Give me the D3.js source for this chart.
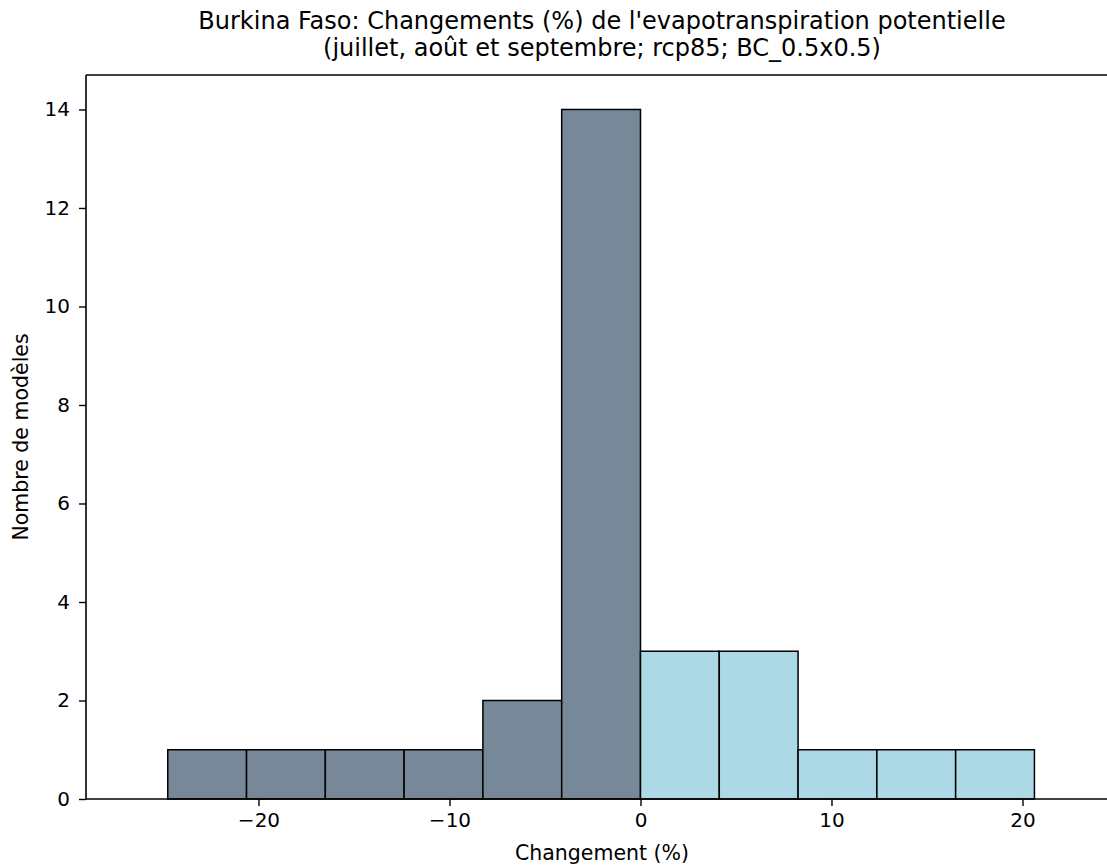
<!DOCTYPE html>
<html>
<head>
<meta charset="utf-8">
<script src="https://cdn.jsdelivr.net/npm/d3@7"></script>
<style>
  html, body { margin: 0; padding: 0; background: #fff; }
  svg { display: block; font-family: "DejaVu Sans", sans-serif; }
</style>
</head>
<body>
<svg id="chart" width="1107" height="867"></svg>
<script>
// Data
const binEdges = [-24.75, -20.625, -16.5, -12.375, -8.25, -4.125, 0, 4.125, 8.25, 12.375, 16.5, 20.625];
const counts = [1, 1, 1, 1, 2, 14, 3, 3, 1, 1, 1];
const xTicks = [-20, -10, 0, 10, 20];
const yTicks = [0, 2, 4, 6, 8, 10, 12, 14];
const titleLines = ["Burkina Faso: Changements (%) de l'evapotranspiration potentielle",
                    "(juillet, août et septembre; rcp85; BC_0.5x0.5)"];
const xLabel = "Changement (%)";
const yLabel = "Nombre de modèles";
const negColor = "#778899";
const posColor = "#add8e6";

const svg = d3.select("#chart");
const m = { left: 86, right: 1118, top: 75, bottom: 799 };

const x = d3.scaleLinear().domain([-29.03, 25.0]).range([m.left, m.right]);
const y = d3.scaleLinear().domain([0, 14.7]).range([m.bottom, m.top]);

const bins = counts.map((c, i) => ({ x0: binEdges[i], x1: binEdges[i + 1], n: c }));

svg.append("g").selectAll("rect").data(bins).join("rect")
  .attr("x", d => x(d.x0))
  .attr("y", d => y(d.n))
  .attr("width", d => x(d.x1) - x(d.x0))
  .attr("height", d => y(0) - y(d.n))
  .attr("fill", d => d.x0 < 0 ? negColor : posColor)
  .attr("stroke", "#000")
  .attr("stroke-width", 1.5);

// spines
const sp = svg.append("g").attr("stroke", "#000").attr("stroke-width", 1.6).attr("fill", "none");
sp.append("line").attr("x1", m.left).attr("x2", m.left).attr("y1", m.top).attr("y2", m.bottom);
sp.append("line").attr("x1", m.left).attr("x2", m.right).attr("y1", m.bottom).attr("y2", m.bottom);
sp.append("line").attr("x1", m.left).attr("x2", m.right).attr("y1", m.top).attr("y2", m.top);
sp.append("line").attr("x1", m.right).attr("x2", m.right).attr("y1", m.top).attr("y2", m.bottom);

// x axis
const fmt = d => d < 0 ? "\u2212" + Math.abs(d) : String(d);
const xAxis = d3.axisBottom(x).tickValues(xTicks).tickFormat(fmt).tickSizeOuter(0).tickSize(7).tickPadding(7);
const gx = svg.append("g").attr("transform", `translate(0,${m.bottom})`).call(xAxis);
gx.select(".domain").remove();
gx.selectAll("line").attr("stroke", "#000").attr("stroke-width", 1.4);
gx.selectAll("text").attr("font-size", 20).attr("fill", "#000").attr("font-family", "DejaVu Sans");

const yAxis = d3.axisLeft(y).tickValues(yTicks).tickSizeOuter(0).tickSize(7).tickPadding(9);
const gy = svg.append("g").attr("transform", `translate(${m.left},0)`).call(yAxis);
gy.select(".domain").remove();
gy.selectAll("line").attr("stroke", "#000").attr("stroke-width", 1.4);
gy.selectAll("text").attr("font-size", 20).attr("fill", "#000").attr("font-family", "DejaVu Sans");

// labels
const cx = (m.left + m.right) / 2;
svg.append("text").attr("x", cx).attr("y", 860).attr("text-anchor", "middle")
  .attr("font-size", 20.5).text(xLabel);
svg.append("text").attr("transform", `translate(28,${(m.top + m.bottom) / 2}) rotate(-90)`)
  .attr("text-anchor", "middle").attr("font-size", 20.5).text(yLabel);

svg.append("text").attr("x", cx).attr("y", 29).attr("text-anchor", "middle")
  .attr("font-size", 24).text(titleLines[0]);
svg.append("text").attr("x", cx).attr("y", 56).attr("text-anchor", "middle")
  .attr("font-size", 24).text(titleLines[1]);
</script>
</body>
</html>
